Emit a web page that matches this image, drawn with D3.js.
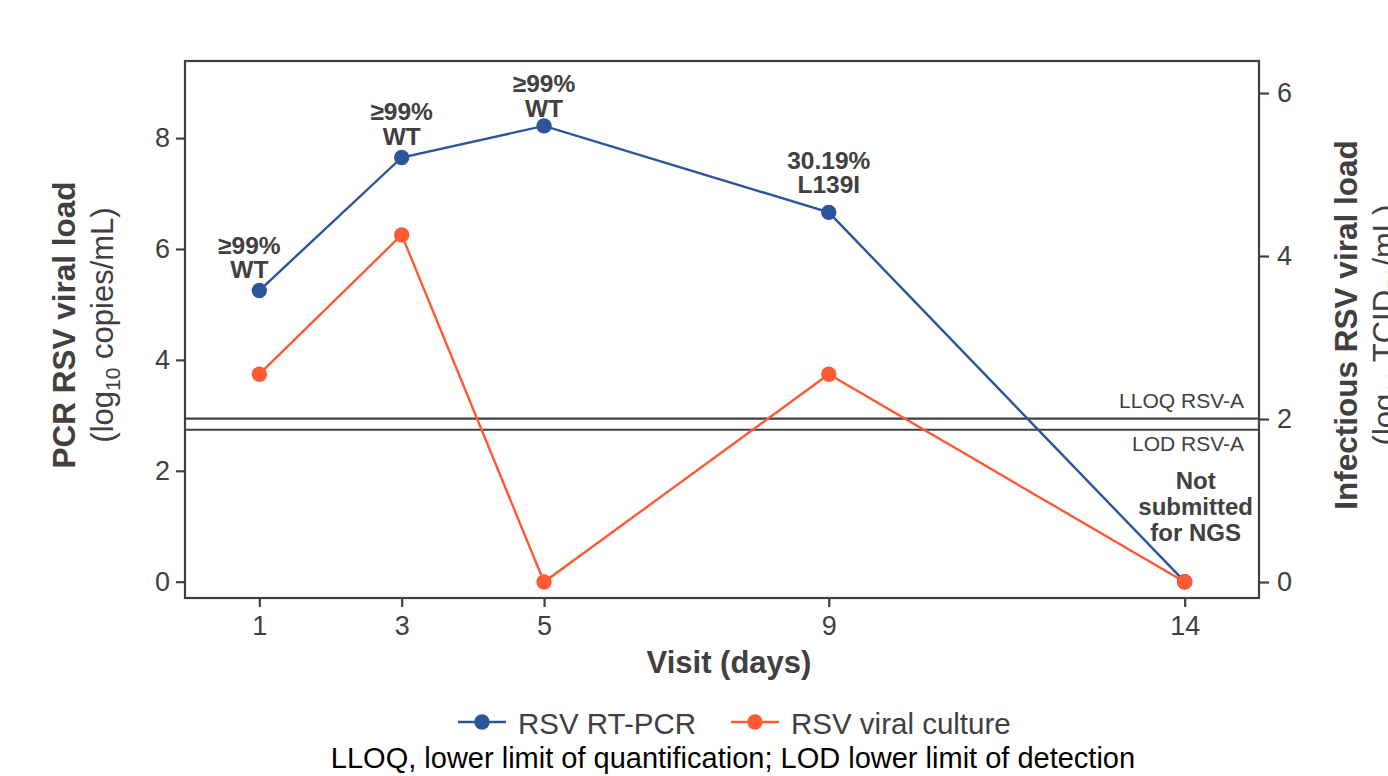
<!DOCTYPE html>
<html><head><meta charset="utf-8">
<script src="https://cdn.jsdelivr.net/npm/d3@7"></script>
<style>body{margin:0;background:#fff;} svg{display:block;font-family:"Liberation Sans",Arial,Helvetica,sans-serif;}</style>
</head><body><svg id="c" width="1388" height="776"></svg>
<script>
// ---- data ----
const days = [1, 3, 5, 9, 14];
const pcrLoad = [5.25, 7.65, 8.22, 6.66, 0];        // log10 copies/mL (left axis)
const cultureLoad = [2.55, 4.26, 0, 2.55, 0];       // log10 TCID50/mL (right axis)
const variantPct = ["≥99%", "≥99%", "≥99%", "30.19%", null];
const variantName = ["WT", "WT", "WT", "L139I", null];
const notSubmitted = ["Not", "submitted", "for NGS"];
const leftTicks = [0, 2, 4, 6, 8];
const rightTicks = [0, 2, 4, 6];
const xTicks = [1, 3, 5, 9, 14];
const lloqValue = 2.94;
const lodValue = 2.74;
const seriesNames = ["RSV RT-PCR", "RSV viral culture"];

// ---- layout ----
const W = 1388, H = 776;
const L = 185, R = 1259, T = 61, B = 598;
const blue = "#2b5598", orange = "#fe5a36", ink = "#404040";
const svg = d3.select("#c");

const x = d3.scaleLinear().domain([-0.044, 15.044]).range([L, R]);
const yL = d3.scaleLinear().domain([-0.294, 9.39]).range([B, T]);
const yR = d3.scaleLinear().domain([-0.196, 6.393]).range([B, T]);

// axes
function styleAxis(g) {
  g.select(".domain").remove();
  g.selectAll(".tick line").attr("stroke", ink).attr("stroke-width", 2.2);
  g.selectAll(".tick text").attr("fill", ink).attr("font-size", 27).attr("font-family", "Liberation Sans, Arial, sans-serif");
}
svg.append("g").attr("transform", `translate(${L},0)`)
  .call(d3.axisLeft(yL).tickValues(leftTicks).tickSize(9).tickPadding(6).tickFormat(d3.format("d")))
  .call(styleAxis);
svg.append("g").attr("transform", `translate(${R},0)`)
  .call(d3.axisRight(yR).tickValues(rightTicks).tickSize(10).tickPadding(8).tickFormat(d3.format("d")))
  .call(styleAxis);
svg.append("g").attr("transform", `translate(0,${B})`)
  .call(d3.axisBottom(x).tickValues(xTicks).tickSize(9).tickPadding(9).tickFormat(d3.format("d")))
  .call(styleAxis);

// frame
svg.append("rect").attr("x", L).attr("y", T).attr("width", R - L).attr("height", B - T)
  .attr("fill", "none").attr("stroke", ink).attr("stroke-width", 2.2);

// LLOQ / LOD lines
[[lloqValue, "LLOQ RSV-A", -11], [lodValue, "LOD RSV-A", 21]].forEach(([v, t, dy]) => {
  svg.append("line").attr("x1", L).attr("x2", R).attr("y1", yL(v)).attr("y2", yL(v))
    .attr("stroke", ink).attr("stroke-width", 2.2);
  svg.append("text").attr("x", 1244).attr("y", yL(v) + dy).attr("text-anchor", "end")
    .attr("font-size", 21).attr("fill", ink).text(t);
});

// series
const pcr = days.map((d, i) => ({ d, v: pcrLoad[i] }));
const cul = days.map((d, i) => ({ d, v: cultureLoad[i] }));
svg.append("path").datum(cul).attr("fill", "none").attr("stroke", orange).attr("stroke-width", 2.4)
  .attr("d", d3.line().x(p => x(p.d)).y(p => yR(p.v)));
svg.append("path").datum(pcr).attr("fill", "none").attr("stroke", blue).attr("stroke-width", 2.4)
  .attr("d", d3.line().x(p => x(p.d)).y(p => yL(p.v)));
svg.selectAll(".pb").data(pcr).join("circle").attr("cx", p => x(p.d)).attr("cy", p => yL(p.v))
  .attr("r", 7.7).attr("fill", blue);
svg.selectAll(".po").data(cul).join("circle").attr("cx", p => x(p.d)).attr("cy", p => yR(p.v))
  .attr("r", 7.7).attr("fill", orange);

// variant annotations
const labelDx = [-10, 0, 0, 0, 0];
const labelDy = [-12.5, -12.5, -9, -19, 0];
pcr.forEach((p, i) => {
  if (!variantPct[i]) return;
  const cx = x(p.d) + labelDx[i], cy = yL(p.v) + labelDy[i];
  svg.append("text").attr("x", cx).attr("y", cy - 24.5).attr("text-anchor", "middle")
    .attr("font-size", 24.5).attr("font-weight", "bold").attr("fill", ink).text(variantPct[i]);
  svg.append("text").attr("x", cx).attr("y", cy).attr("text-anchor", "middle")
    .attr("font-size", 24.5).attr("font-weight", "bold").attr("fill", ink).text(variantName[i]);
});
notSubmitted.forEach((t, i) => {
  svg.append("text").attr("x", x(14) + 11).attr("y", 489 + i * 26).attr("text-anchor", "middle")
    .attr("font-size", 24).attr("font-weight", "bold").attr("fill", ink).text(t);
});

// axis titles
svg.append("text").attr("x", 729).attr("y", 673).attr("text-anchor", "middle")
  .attr("font-size", 31).attr("font-weight", "bold").attr("fill", ink).text("Visit (days)");

const lt = svg.append("g").attr("transform", "translate(75,325) rotate(-90)");
lt.append("text").attr("text-anchor", "middle").attr("font-size", 31.5).attr("font-weight", "bold")
  .attr("fill", ink).text("PCR RSV viral load");
const lt2 = lt.append("text").attr("y", 38).attr("text-anchor", "middle").attr("font-size", 31).attr("fill", ink);
lt2.append("tspan").text("(log");
lt2.append("tspan").attr("font-size", 21).attr("dy", 7).text("10");
lt2.append("tspan").attr("dy", -7).text(" copies/mL)");

const rt = svg.append("g").attr("transform", "translate(1357,325) rotate(-90)");
rt.append("text").attr("text-anchor", "middle").attr("font-size", 31.5).attr("font-weight", "bold")
  .attr("fill", ink).text("Infectious RSV viral load");
const rt2 = rt.append("text").attr("y", 38).attr("text-anchor", "middle").attr("font-size", 31).attr("fill", ink);
rt2.append("tspan").text("(log");
rt2.append("tspan").attr("font-size", 21).attr("dy", 7).text("10");
rt2.append("tspan").attr("dy", -7).text(" TCID");
rt2.append("tspan").attr("font-size", 21).attr("dy", 7).text("50");
rt2.append("tspan").attr("dy", -7).text("/mL)");

// legend
const legend = [[458, blue, seriesNames[0]], [731, orange, seriesNames[1]]];
legend.forEach(([lx, c, t]) => {
  svg.append("line").attr("x1", lx).attr("x2", lx + 48).attr("y1", 722).attr("y2", 722)
    .attr("stroke", c).attr("stroke-width", 2.4);
  svg.append("circle").attr("cx", lx + 24).attr("cy", 722).attr("r", 7.7).attr("fill", c);
  svg.append("text").attr("x", lx + 60).attr("y", 734).attr("font-size", 29.5).attr("fill", ink).text(t);
});

// footnote
svg.append("text").attr("x", 733).attr("y", 768).attr("text-anchor", "middle").attr("font-size", 29)
  .attr("fill", "#000").text("LLOQ, lower limit of quantification; LOD lower limit of detection");
</script></body></html>
